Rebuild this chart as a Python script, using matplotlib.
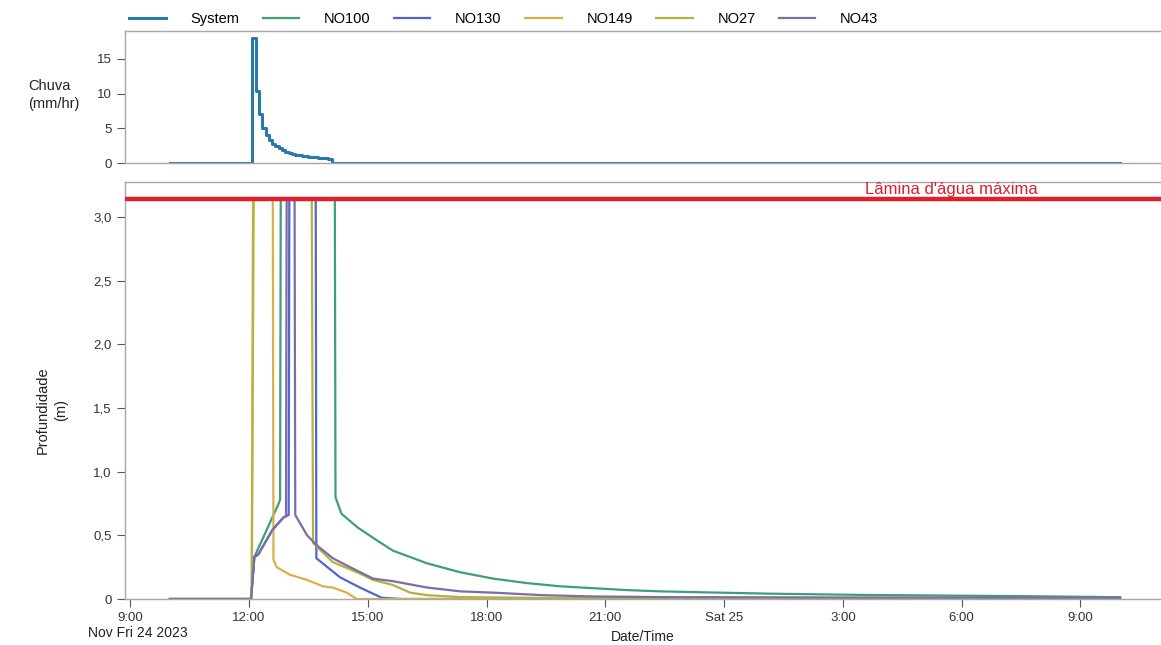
import matplotlib
matplotlib.use("Agg")
import matplotlib.pyplot as plt
import matplotlib.dates as mdates
from datetime import datetime, timedelta

plt.rcParams["font.family"] = ["Liberation Sans", "DejaVu Sans"]

# base instant: Fri 24 Nov 2023 12:00; all times below are minutes from it
BASE = datetime(2023, 11, 24, 12, 0)

# rainfall (System), 5-min steps
rain_t = [-120, 5, 10, 15, 20, 25, 30, 35, 40, 45, 50, 55, 60, 65, 70, 75, 80,
          85, 90, 95, 100, 105, 110, 115, 120, 125, 1320]
rain_v = [0, 18, 10.4, 7.0, 5.0, 4.0, 3.3, 2.8, 2.4, 2.1, 1.85, 1.65, 1.5, 1.35,
          1.2, 1.1, 1.0, 0.95, 0.9, 0.85, 0.8, 0.75, 0.7, 0.68, 0.62, 0, 0]

max_depth = 3.14

# node depths (m); flooded nodes sit at the maximum depth
no100_t = [-120, 3, 8, 44, 47, 48, 130, 131, 140, 165, 194, 218, 270, 320, 370,
           421, 471, 521, 573, 623, 694, 789, 930, 1179, 1320]
no100_v = [0, 0, 0.33, 0.74, 0.78, 3.14, 3.14, 0.80, 0.67, 0.56, 0.46, 0.38, 0.28,
           0.21, 0.16, 0.125, 0.10, 0.085, 0.07, 0.06, 0.052, 0.042, 0.032, 0.022, 0.014]

no130_t = [-120, 3, 8, 14, 35, 52, 60, 61, 101, 102, 138, 168, 201, 230, 1320]
no130_v = [0, 0, 0.33, 0.35, 0.54, 0.64, 0.66, 3.14, 3.14, 0.32, 0.17, 0.09, 0.01, 0, 0]

no149_t = [-120, 4, 6, 36, 37, 42, 62, 88, 112, 127, 148, 163, 1320]
no149_v = [0, 0, 3.14, 3.14, 0.31, 0.25, 0.19, 0.15, 0.10, 0.09, 0.05, 0, 0]

no27_t = [-120, 4, 7, 95, 97, 127, 168, 188, 218, 244, 270, 320, 450, 1320]
no27_v = [0, 0, 3.14, 3.14, 0.44, 0.29, 0.20, 0.15, 0.11, 0.05, 0.03, 0.015, 0.008, 0.005]

no43_t = [-120, 3, 8, 14, 35, 52, 56, 57, 69, 70, 88, 103, 127, 153, 188, 218,
          270, 320, 370, 445, 521, 623, 900, 1320]
no43_v = [0, 0, 0.33, 0.35, 0.54, 0.64, 0.65, 3.14, 3.14, 0.66, 0.50, 0.42, 0.32,
          0.25, 0.16, 0.14, 0.09, 0.06, 0.05, 0.03, 0.02, 0.015, 0.012, 0.01]

series = [
    ("NO100", no100_t, no100_v, "#3f9f72"),
    ("NO130", no130_t, no130_v, "#5264d0"),
    ("NO149", no149_t, no149_v, "#d8b04c"),
    ("NO27", no27_t, no27_v, "#b4b23c"),
    ("NO43", no43_t, no43_v, "#7a6ea8"),
]

tick_hours = [-3, 0, 3, 6, 9, 12, 15, 18, 21]
tick_labels = ["9:00", "12:00", "15:00", "18:00", "21:00", "Sat 25", "3:00", "6:00", "9:00"]


def to_dates(mins):
    return [mdates.date2num(BASE + timedelta(minutes=m)) for m in mins]


W, H = 1161, 645
fig = plt.figure(figsize=(W / 100, H / 100), dpi=100)
ax1 = fig.add_axes([125 / W, 1 - 163 / H, 1 - 125 / W, (163 - 31) / H])
ax2 = fig.add_axes([125 / W, 1 - 599 / H, 1 - 125 / W, (599 - 182) / H], sharex=ax1)

spine_c = "#a8a8a8"
for ax in (ax1, ax2):
    for s in ("top", "left", "bottom"):
        ax.spines[s].set_color(spine_c)
        ax.spines[s].set_linewidth(1.0)
    ax.spines["right"].set_visible(False)
    ax.tick_params(colors="#555555", labelcolor="#333333", labelsize=9.5,
                   length=6, width=0.8, direction="out")

# rain panel
sys_line, = ax1.step(to_dates(rain_t), rain_v, where="post", color="#2a7aa9", lw=2.2)
ax1.set_ylim(0, 19)
ax1.set_yticks([0, 5, 10, 15])
ax1.tick_params(axis="x", bottom=False, labelbottom=False)
fig.text(28 / W, 1 - 95 / H, "Chuva\n(mm/hr)", fontsize=10.5, color="#222222",
         ha="left", va="center", linespacing=1.4)

# depth panel
handles = [sys_line]
for name, t, v, c in series:
    ln, = ax2.plot(to_dates(t), v, color=c, lw=1.6, label=name)
    handles.append(ln)
ax2.axhline(max_depth, color="#e0202c", lw=3.2, zorder=5)
ax2.text(mdates.date2num(BASE + timedelta(minutes=933)), max_depth + 0.015,
         "Lâmina d'água máxima", color="#d8202c", fontsize=12, va="bottom", ha="left")
ax2.set_ylim(0, 3.276)
ax2.set_yticks([0, 0.5, 1.0, 1.5, 2.0, 2.5, 3.0])
ax2.set_yticklabels(["0", "0,5", "1,0", "1,5", "2,0", "2,5", "3,0"])
fig.text(52 / W, 1 - 410 / H, "Profundidade\n(m)", fontsize=10.5, color="#222222",
         rotation=90, ha="center", va="center", linespacing=1.4)

x0 = mdates.date2num(BASE + timedelta(minutes=-188))
x1 = mdates.date2num(BASE + timedelta(minutes=1382))
ax2.set_xlim(x0, x1)
ax2.set_xticks([mdates.date2num(BASE + timedelta(hours=h)) for h in tick_hours])
ax2.set_xticklabels(tick_labels)
ax2.set_xlabel("Date/Time", fontsize=10, color="#222222", labelpad=4)
fig.text(88 / W, 1 - 633 / H, "Nov Fri 24 2023", fontsize=10, color="#222222",
         ha="left", va="center")

fig.legend(handles=handles, labels=["System"] + [s[0] for s in series],
           loc="upper left", bbox_to_anchor=(119 / W, 1 - 2 / H), ncol=6, frameon=False,
           fontsize=10.5, handlelength=2.5, handletextpad=1.7, columnspacing=1.6,
           borderaxespad=0.3)

fig.savefig("out.png", dpi=100)
plt.close(fig)
